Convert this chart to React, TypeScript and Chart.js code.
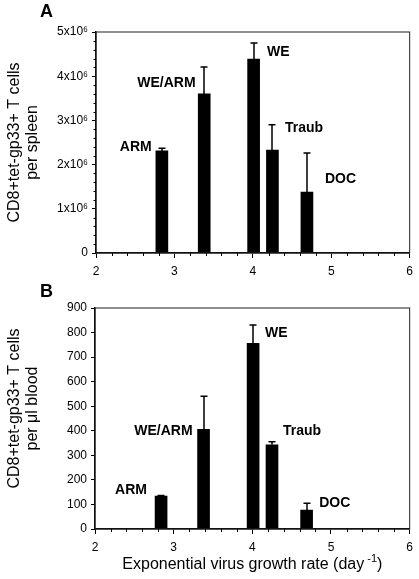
import React, { useEffect, useRef } from "react";
import { Chart, registerables } from "chart.js";

Chart.register(...registerables);

// ---- data ----
const strains = ["ARM", "WE/ARM", "WE", "Traub", "DOC"];
const growthRate = [2.84, 3.38, 4.01, 4.25, 4.69];

const spleenMean = [2.31e6, 3.6e6, 4.39e6, 2.33e6, 1.38e6];
const spleenUpper = [2.37e6, 4.21e6, 4.75e6, 2.9e6, 2.26e6];
const spleenTickLabels = ["0", "1x10⁶", "2x10⁶", "3x10⁶", "4x10⁶", "5x10⁶"];
const spleenLabelX = [2.71, 3.27, 4.18, 4.41, 4.92];
const spleenLabelY = [2.4e6, 3.85e6, 4.55e6, 2.83e6, 1.67e6];

const bloodMean = [134, 406, 756, 343, 77];
const bloodUpper = [136, 541, 831, 355, 105];
const bloodLabelX = [2.66, 3.24, 4.16, 4.39, 4.85];
const bloodLabelY = [159, 399, 798, 399, 106];

const labelAlign = ["right", "right", "left", "left", "left"];
const xTickValues = [2, 3, 4, 5, 6];

const FONT = "'Liberation Sans', Arial, Helvetica, sans-serif";

type PanelProps = {
  letter: string;
  height: number;
  padTop: number;
  padRight: number;
  yWidth: number;
  xHeight: number;
  yMax: number;
  yStep: number;
  yMinorStep: number | null;
  tickLabel: (v: number) => string;
  means: number[];
  uppers: number[];
  labelX: number[];
  labelY: number[];
  yTitle: string[];
  yTitleShift: number;
  xTitle: boolean;
};

function Panel(p: PanelProps) {
  const ref = useRef<HTMLCanvasElement | null>(null);
  useEffect(() => {
    if (!ref.current) return;
    const overlay = {
      id: "overlay",
      afterDatasetsDraw(chart: any) {
        const ctx = chart.ctx;
        const xs = chart.scales.x;
        const ys = chart.scales.y;
        const a = chart.chartArea;
        ctx.save();
        // frame (top/right)
        ctx.strokeStyle = "#222";
        ctx.lineWidth = 1;
        ctx.strokeRect(a.left, a.top, a.right - a.left, a.bottom - a.top);
        // error bars
        ctx.strokeStyle = "#000";
        ctx.lineWidth = 1.5;
        growthRate.forEach((g, i) => {
          const px = Math.round(xs.getPixelForValue(g));
          const y0 = ys.getPixelForValue(p.means[i]);
          const y1 = ys.getPixelForValue(p.uppers[i]);
          ctx.beginPath();
          ctx.moveTo(px, y0);
          ctx.lineTo(px, y1);
          ctx.moveTo(px - 3.5, y1);
          ctx.lineTo(px + 3.5, y1);
          ctx.stroke();
        });
        // minor ticks
        ctx.lineWidth = 1;
        for (let v = 2.2; v < 6; v += 0.2) {
          if (Math.abs(v - Math.round(v)) < 1e-6) continue;
          const px = Math.round(xs.getPixelForValue(v)) + 0.5;
          ctx.beginPath();
          ctx.moveTo(px, a.bottom);
          ctx.lineTo(px, a.bottom + 3);
          ctx.stroke();
        }
        if (p.yMinorStep) {
          for (let v = p.yMinorStep; v < p.yMax; v += p.yMinorStep) {
            if (Math.abs(v / p.yStep - Math.round(v / p.yStep)) < 1e-6) continue;
            const py = Math.round(ys.getPixelForValue(v)) + 0.5;
            ctx.beginPath();
            ctx.moveTo(a.left, py);
            ctx.lineTo(a.left - 2.5, py);
            ctx.stroke();
          }
        }
        // bar labels
        ctx.fillStyle = "#000";
        ctx.font = `bold 14px ${FONT}`;
        ctx.textBaseline = "middle";
        strains.forEach((s, i) => {
          ctx.textAlign = labelAlign[i];
          ctx.fillText(s, xs.getPixelForValue(p.labelX[i]), ys.getPixelForValue(p.labelY[i]));
        });
        // panel letter
        ctx.font = `bold 18px ${FONT}`;
        ctx.textAlign = "left";
        ctx.fillText(p.letter, 40, 12);
        // y title
        ctx.font = `16px ${FONT}`;
        ctx.textAlign = "center";
        const cy = (a.top + a.bottom) / 2 + p.yTitleShift;
        p.yTitle.forEach((line, i) => {
          ctx.save();
          ctx.translate(15 + i * 18, cy);
          ctx.rotate(-Math.PI / 2);
          ctx.fillText(line, 0, 0);
          ctx.restore();
        });
        // x title
        if (p.xTitle) {
          const main = "Exponential virus growth rate (day";
          const sup = "-1";
          const close = ")";
          ctx.font = `16px ${FONT}`;
          const w1 = ctx.measureText(main).width;
          const w3 = ctx.measureText(close).width;
          ctx.font = `11px ${FONT}`;
          const w2 = ctx.measureText(sup).width;
          const gap = 3;
          const total = w1 + gap + w2 + w3;
          const cx = (a.left + a.right) / 2;
          let x = cx - total / 2;
          const y = 285;
          ctx.textAlign = "left";
          ctx.font = `16px ${FONT}`;
          ctx.fillText(main, x, y);
          x += w1 + gap;
          ctx.font = `11px ${FONT}`;
          ctx.fillText(sup, x, y - 6);
          x += w2;
          ctx.font = `16px ${FONT}`;
          ctx.fillText(close, x, y);
        }
        ctx.restore();
      },
    };

    const chart = new Chart(ref.current, {
      type: "bar",
      data: {
        datasets: [
          {
            data: growthRate.map((g, i) => ({ x: g, y: p.means[i] })),
            backgroundColor: "#000",
            borderWidth: 0,
            barThickness: 12,
          },
        ],
      },
      options: {
        animation: false,
        responsive: false,
        layout: { padding: { top: p.padTop, right: p.padRight, left: 0, bottom: 0 } },
        plugins: { legend: { display: false }, tooltip: { enabled: false } },
        scales: {
          x: {
            type: "linear",
            min: 2,
            max: 6,
            offset: false,
            afterBuildTicks: (s: any) => {
              s.ticks = xTickValues.map((v) => ({ value: v }));
            },
            afterFit: (s: any) => {
              s.height = p.xHeight;
            },
            ticks: {
              color: "#000",
              font: { family: FONT, size: 12 },
              padding: 6,
              maxRotation: 0,
              callback: (v: any) => String(v),
            },
            grid: { display: true, offset: false, drawOnChartArea: false, drawTicks: true, tickLength: 5, color: "#000", lineWidth: 1 },
            border: { display: true, color: "#000", width: 1.5 },
          },
          y: {
            type: "linear",
            min: 0,
            max: p.yMax,
            ticks: {
              stepSize: p.yStep,
              color: "#000",
              font: { family: FONT, size: 12 },
              padding: 4,
              callback: (v: any) => p.tickLabel(Number(v)),
            },
            afterFit: (s: any) => {
              s.width = p.yWidth;
            },
            grid: { display: true, drawOnChartArea: false, drawTicks: true, tickLength: 4, color: "#000", lineWidth: 1 },
            border: { display: true, color: "#000", width: 1.5 },
          },
        },
      },
      plugins: [overlay],
    } as any);
    return () => chart.destroy();
  }, []);
  return <canvas ref={ref} width={419} height={p.height} style={{ display: "block" }} />;
}

export default function App() {
  return (
    <div style={{ position: "absolute", left: 0, top: 0, width: 419, height: 579, background: "#fff" }}>
      <Panel
        letter="A"
        height={280}
        padTop={32}
        padRight={6}
        yWidth={96}
        xHeight={27}
        yMax={5e6}
        yStep={1e6}
        yMinorStep={2e5}
        tickLabel={(v) => spleenTickLabels[Math.round(v / 1e6)] ?? ""}
        means={spleenMean}
        uppers={spleenUpper}
        labelX={spleenLabelX}
        labelY={spleenLabelY}
        yTitle={["CD8+tet-gp33+ T cells", "per spleen"]}
        yTitleShift={0}
        xTitle={false}
      />
      <Panel
        letter="B"
        height={299}
        padTop={28}
        padRight={8}
        yWidth={95}
        xHeight={50}
        yMax={900}
        yStep={100}
        yMinorStep={null}
        tickLabel={(v) => String(v)}
        means={bloodMean}
        uppers={bloodUpper}
        labelX={bloodLabelX}
        labelY={bloodLabelY}
        yTitle={["CD8+tet-gp33+ T cells", "per μl blood"]}
        yTitleShift={-10}
        xTitle={true}
      />
    </div>
  );
}
